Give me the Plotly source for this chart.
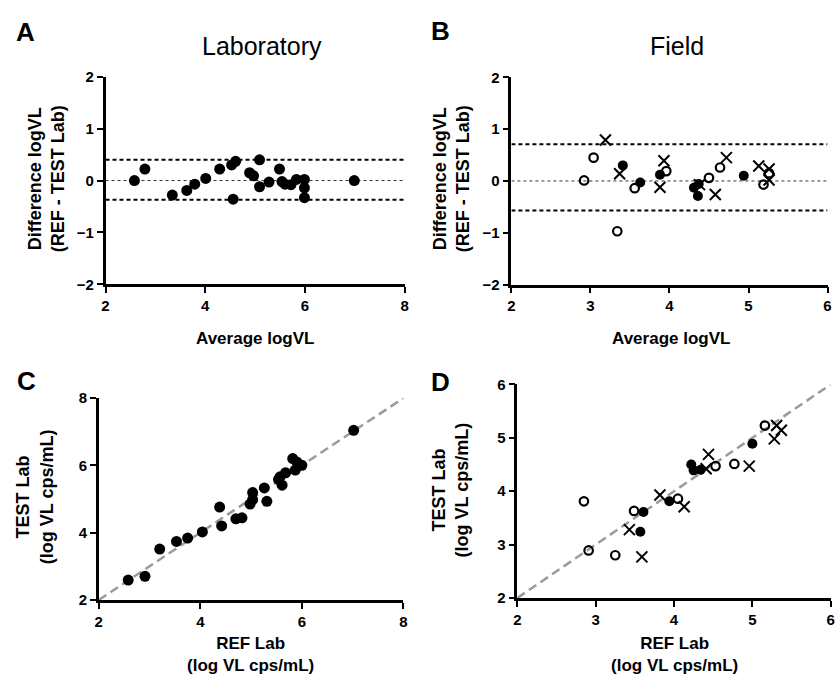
import plotly.graph_objects as go

# ---------------- data ----------------
# Panel A: Laboratory Bland-Altman
lab_avg = [2.58, 2.79, 3.34, 3.63, 3.79, 4.01, 4.29, 4.53, 4.61, 4.56, 4.89, 4.97,
           5.09, 5.09, 5.28, 5.49, 5.54, 5.60, 5.72, 5.83, 5.99, 5.99, 5.99, 6.99]
lab_diff = [0.00, 0.22, -0.28, -0.19, -0.07, 0.04, 0.22, 0.30, 0.37, -0.36, 0.15, 0.09,
            0.40, -0.12, -0.03, 0.22, -0.02, -0.07, -0.08, 0.02, 0.02, -0.14, -0.33, 0.00]
lab_loa = [-0.37, 0.40]
lab_bias = 0.0

# Panel B: Field Bland-Altman (three symbol groups)
field_open_avg = [2.92, 3.04, 3.34, 3.56, 3.96, 4.50, 4.64, 5.19, 5.26]
field_open_diff = [0.01, 0.45, -0.97, -0.14, 0.19, 0.06, 0.26, -0.07, 0.15]
field_filled_avg = [3.41, 3.63, 3.88, 4.31, 4.37, 4.36, 4.94]
field_filled_diff = [0.30, -0.03, 0.12, -0.13, -0.06, -0.29, 0.10]
field_x_avg = [3.19, 3.37, 3.93, 3.88, 4.38, 4.58, 4.72, 5.13, 5.26, 5.26]
field_x_diff = [0.79, 0.14, 0.39, -0.12, -0.07, -0.26, 0.45, 0.29, 0.23, 0.02]
field_loa = [-0.57, 0.71]
field_bias = 0.0

# Panel C: Laboratory REF vs TEST
lab_ref = [2.58, 2.91, 3.20, 3.53, 3.75, 4.04, 4.38, 4.42, 4.70, 4.82, 4.98, 5.03,
           5.03, 5.26, 5.31, 5.54, 5.57, 5.61, 5.68, 5.82, 5.87, 5.90, 6.00, 7.02]
lab_test = [2.59, 2.70, 3.51, 3.74, 3.84, 4.02, 4.76, 4.20, 4.41, 4.44, 4.85, 4.98,
            5.19, 5.33, 4.93, 5.58, 5.66, 5.41, 5.78, 6.20, 5.86, 6.10, 6.00, 7.04]

# Panel D: Field REF vs TEST
field_open_ref = [2.85, 2.91, 3.25, 3.49, 4.05, 4.53, 4.77, 5.16]
field_open_test = [3.81, 2.89, 2.80, 3.63, 3.86, 4.47, 4.51, 5.23]
field_filled_ref = [3.57, 3.61, 3.94, 4.22, 4.25, 4.34, 5.00]
field_filled_test = [3.24, 3.61, 3.81, 4.50, 4.39, 4.40, 4.89]
field_x_ref = [3.43, 3.59, 3.82, 4.13, 4.44, 4.41, 4.96, 5.28, 5.31, 5.37]
field_x_test = [3.28, 2.77, 3.93, 3.71, 4.69, 4.42, 4.47, 4.98, 5.23, 5.14]

lab_range = [2, 8]
field_range = [2, 6]
diff_range = [-2, 2]

# ---------------- figure ----------------
W, H = 835, 683
FONT = "Liberation Sans, Arial, Helvetica, sans-serif"


def px(x):
    return x / W


def py(y):
    return 1 - y / H


fig = go.Figure()

filled = dict(symbol="circle", size=11, color="black", line=dict(width=0))
filled_s = dict(symbol="circle", size=10, color="black", line=dict(width=0))
opened = dict(symbol="circle-open", size=8.5, color="black", line=dict(width=2.2, color="black"))
crossed = dict(symbol="x-thin", size=11, color="black", line=dict(width=2, color="black"))


def hline(xr, y, dash, width, color, xa, ya):
    fig.add_trace(go.Scatter(x=xr, y=[y, y], mode="lines", xaxis=xa, yaxis=ya,
                             line=dict(color=color, width=width, dash=dash),
                             showlegend=False, hoverinfo="skip"))


# Panel A
hline(lab_range, lab_bias, "dot", 1, "#333333", "x", "y")
for v in lab_loa:
    hline(lab_range, v, "4px,3px", 2, "black", "x", "y")
fig.add_trace(go.Scatter(x=lab_avg, y=lab_diff, mode="markers", marker=filled,
                         xaxis="x", yaxis="y", showlegend=False))

# Panel B
hline(field_range, field_bias, "dot", 1, "#333333", "x2", "y2")
for v in field_loa:
    hline(field_range, v, "4px,3px", 2, "black", "x2", "y2")
fig.add_trace(go.Scatter(x=field_open_avg, y=field_open_diff, mode="markers", marker=opened,
                         xaxis="x2", yaxis="y2", showlegend=False))
fig.add_trace(go.Scatter(x=field_filled_avg, y=field_filled_diff, mode="markers", marker=filled_s,
                         xaxis="x2", yaxis="y2", showlegend=False))
fig.add_trace(go.Scatter(x=field_x_avg, y=field_x_diff, mode="markers", marker=crossed,
                         xaxis="x2", yaxis="y2", showlegend=False))

# Panel C
fig.add_trace(go.Scatter(x=lab_range, y=lab_range, mode="lines", xaxis="x3", yaxis="y3",
                         line=dict(color="#9a9a9a", width=2.5, dash="9px,5px"),
                         showlegend=False, hoverinfo="skip"))
fig.add_trace(go.Scatter(x=lab_ref, y=lab_test, mode="markers", marker=filled,
                         xaxis="x3", yaxis="y3", showlegend=False))

# Panel D
fig.add_trace(go.Scatter(x=field_range, y=field_range, mode="lines", xaxis="x4", yaxis="y4",
                         line=dict(color="#9a9a9a", width=2.5, dash="9px,5px"),
                         showlegend=False, hoverinfo="skip"))
fig.add_trace(go.Scatter(x=field_open_ref, y=field_open_test, mode="markers", marker=opened,
                         xaxis="x4", yaxis="y4", showlegend=False))
fig.add_trace(go.Scatter(x=field_filled_ref, y=field_filled_test, mode="markers", marker=filled_s,
                         xaxis="x4", yaxis="y4", showlegend=False))
fig.add_trace(go.Scatter(x=field_x_ref, y=field_x_test, mode="markers", marker=crossed,
                         xaxis="x4", yaxis="y4", showlegend=False))

tickfont = dict(family=FONT, size=15, color="black", weight="bold")


def axis(domain, rng, dtick, anchor):
    return dict(domain=domain, range=rng, dtick=dtick, tick0=rng[0], anchor=anchor,
                showgrid=False, zeroline=False, showline=True, linecolor="black",
                linewidth=2.5, ticks="outside", ticklen=6, tickwidth=2, tickcolor="black",
                tickfont=tickfont, fixedrange=True)


fig.update_layout(
    width=W, height=H,
    margin=dict(l=0, r=0, t=0, b=0),
    paper_bgcolor="white", plot_bgcolor="white",
    font=dict(family=FONT, color="black"),
    xaxis=axis([px(102.5), px(404.5)], lab_range, 2, "y"),
    yaxis=axis([py(282.3), py(69.5)], diff_range, 1, "x"),
    xaxis2=axis([px(512.3), px(831.5)], field_range, 1, "y2"),
    yaxis2=axis([py(282.7), py(70)], diff_range, 1, "x2"),
    xaxis3=axis([px(95.7), px(403.3)], lab_range, 2, "y3"),
    yaxis3=axis([py(606), py(399)], lab_range, 2, "x3"),
    xaxis4=axis([px(518.3), px(834.7)], field_range, 1, "y4"),
    yaxis4=axis([py(604), py(385)], field_range, 1, "x4"),
)

ann = []


def text(x, y, s, size, bold=True, angle=0):
    ann.append(dict(x=px(x), y=py(y), xref="paper", yref="paper", text=s,
                    showarrow=False, xanchor="center", yanchor="middle", textangle=angle,
                    font=dict(family=FONT, size=size, color="black",
                              weight="bold" if bold else "normal")))


# panel letters
text(22, 24, "A", 26)
text(441, 23, "B", 26)
text(23, 382, "C", 26)
text(441, 383, "D", 26)
# panel titles
text(261, 38, "Laboratory", 25, bold=False)
text(680, 38, "Field", 25, bold=False)
# axis titles
text(43, 174, "Difference logVL<br>(REF - TEST Lab)", 18, angle=-90)
text(452, 174, "Difference logVL<br>(REF - TEST Lab)", 18, angle=-90)
text(253, 338, "Average logVL", 17)
text(673, 338, "Average logVL", 17)
text(31, 500, "TEST Lab<br>(log VL cps/mL)", 18, angle=-90)
text(451, 493, "TEST Lab<br>(log VL cps/mL)", 18, angle=-90)
text(249, 662, "REF Lab<br>(log VL cps/mL)", 17)
text(677, 662, "REF Lab<br>(log VL cps/mL)", 17)

fig.update_layout(annotations=ann)

fig.write_html(
    "out.html",
    config={"displayModeBar": False},
    post_script="document.body.style.margin='0';document.body.style.overflow='hidden';",
)
